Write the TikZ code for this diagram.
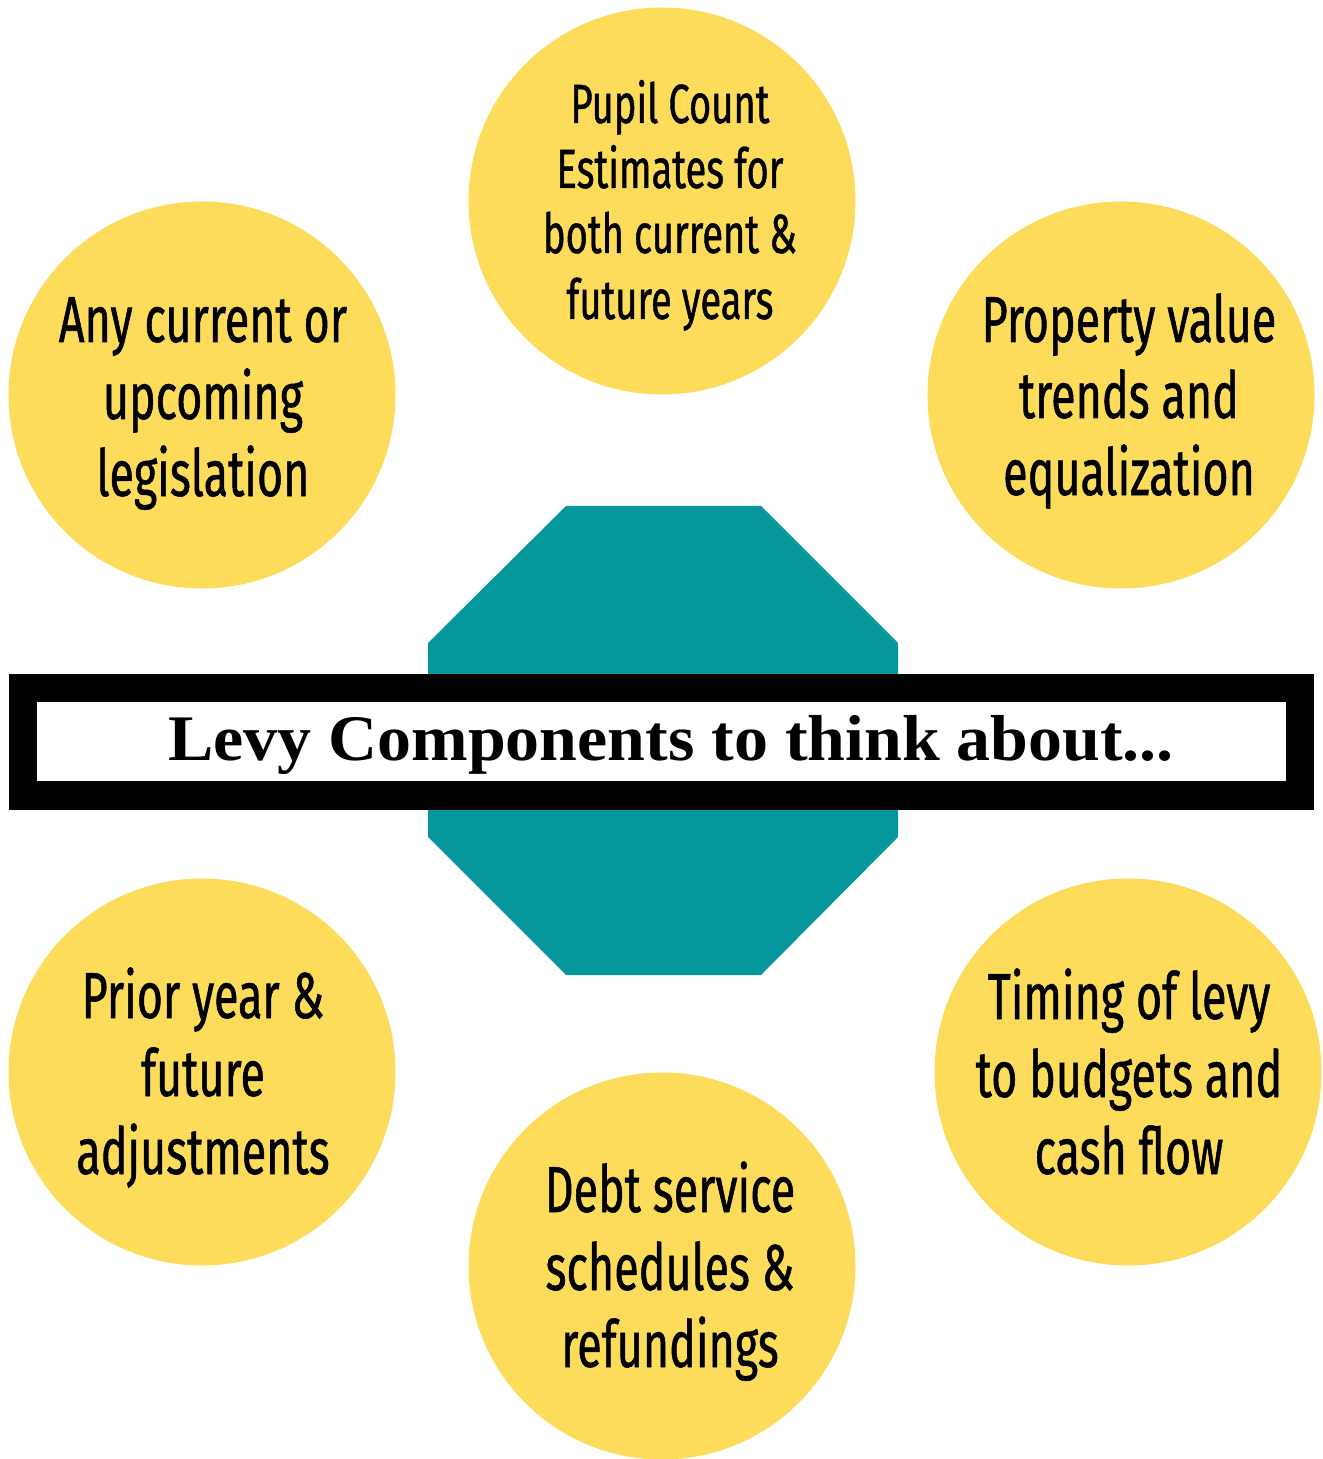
\documentclass[tikz,border=0pt]{standalone}
\usepackage{fontspec}
\newfontfamily\condfont[FakeStretch=0.69,FakeBold=0.8]{Fira Sans}
\newfontfamily\titlefont[FakeStretch=1.045]{Liberation Serif}
\definecolor{blobyellow}{HTML}{FDDC5C}
\definecolor{octteal}{HTML}{06979C}
\begin{document}
\begin{tikzpicture}[x=0.5pt,y=-0.5pt,
  blob/.style={circle,fill=blobyellow,minimum size=387*0.5pt,inner sep=0pt,draw=none},
  bigtxt/.style={anchor=base,inner sep=0pt,font=\condfont\fontsize{32.5pt}{38pt}\selectfont},
  smalltxt/.style={anchor=base,inner sep=0pt,font=\condfont\fontsize{27.6pt}{33pt}\selectfont},
  titletxt/.style={anchor=base,inner sep=0pt,font=\titlefont\bfseries\fontsize{32.5pt}{38pt}\selectfont}]
\useasboundingbox (0,0) rectangle (1322,1459);
% octagon
\fill[octteal] (566,506) -- (761,506) -- (898,643) -- (898,837) -- (761,975) -- (566,975) -- (428,837) -- (428,643) -- cycle;
% frame
\fill[black] (9,674) rectangle (1314,810);
\fill[white] (37,702) rectangle (1286,781);
\node[titletxt] (title) at (671,760) {Levy Components to think about...};
% circles
\node[blob] (ctop) at (662,201) {};
\node[blob] (cul) at (202,395) {};
\node[blob] (cur) at (1121,395) {};
\node[blob] (cll) at (202,1072) {};
\node[blob] (clr) at (1128,1072) {};
\node[blob] (cbot) at (662,1266) {};
% top text
\node[smalltxt] (t1) at (670,123) {Pupil Count};
\node[smalltxt] (t2) at (670,188) {Estimates for};
\node[smalltxt] (t3) at (670,253) {both current \&};
\node[smalltxt] (t4) at (670,319) {future years};
% upper left
\node[bigtxt] (ul1) at (203,342) {Any current or};
\node[bigtxt] (ul2) at (203,419) {upcoming};
\node[bigtxt] (ul3) at (203,496) {legislation};
% upper right
\node[bigtxt] (ur1) at (1129,342) {Property value};
\node[bigtxt] (ur2) at (1129,418) {trends and};
\node[bigtxt] (ur3) at (1129,495) {equalization};
% lower left
\node[bigtxt] (ll1) at (203,1018) {Prior year \&};
\node[bigtxt] (ll2) at (203,1096) {future};
\node[bigtxt] (ll3) at (203,1174) {adjustments};
% lower right
\node[bigtxt] (lr1) at (1129,1019) {Timing of levy};
\node[bigtxt] (lr2) at (1129,1097) {to budgets and};
\node[bigtxt] (lr3) at (1129,1174) {cash flow};
% bottom
\node[bigtxt] (b1) at (670,1212) {Debt service};
\node[bigtxt] (b2) at (670,1290) {schedules \&};
\node[bigtxt] (b3) at (670,1367) {refundings};
\end{tikzpicture}
\end{document}
